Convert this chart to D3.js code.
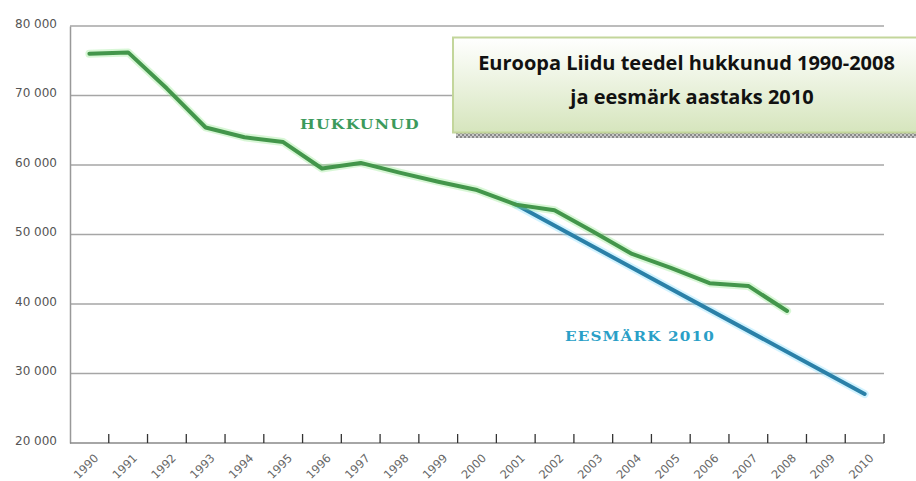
<!DOCTYPE html>
<html>
<head>
<meta charset="utf-8">
<script src="https://cdn.jsdelivr.net/npm/d3@7"></script>
<style>
  html, body { margin: 0; padding: 0; background: #fff; }
  svg { display: block; }
</style>
</head>
<body>
<svg id="chart" width="916" height="481"></svg>
<script>
// ---- data ----
const years = ["1990","1991","1992","1993","1994","1995","1996","1997","1998","1999","2000",
               "2001","2002","2003","2004","2005","2006","2007","2008","2009","2010"];
const killedYears = ["1990","1991","1992","1993","1994","1995","1996","1997","1998","1999","2000",
                     "2001","2002","2003","2004","2005","2006","2007","2008"];
const killed = [76000, 76200, 71000, 65400, 64000, 63300, 59500, 60300, 58900, 57600, 56400,
                54300, 53500, 50400, 47200, 45200, 43000, 42600, 39000];
const targetYears = ["2001", "2010"];
const target = [54300, 27050];
const yTicks = [20000, 30000, 40000, 50000, 60000, 70000, 80000];
const titleLines = ["Euroopa Liidu teedel hukkunud 1990-2008", "ja eesmärk aastaks 2010"];
const seriesLabels = ["HUKKUNUD", "EESMÄRK 2010"];

(function () {
// ---- layout ----
const svg = d3.select("#chart");
const pLeft = 70, pRight = 884, pTop = 26, pBottom = 443;

const x = d3.scaleBand().domain(years).range([pLeft, pRight]).padding(0);
const y = d3.scaleLinear().domain([20000, 80000]).range([pBottom, pTop]);
const cx = d => x(d) + x.bandwidth() / 2;

const fmt = v => d3.format(",")(v).replace(/,/g, " ");

// gridlines
svg.append("g").selectAll("line").data(yTicks.filter(t => t > 20000)).join("line")
  .attr("x1", pLeft).attr("x2", pRight)
  .attr("y1", d => y(d)).attr("y2", d => y(d))
  .attr("stroke", "#a6a6a6").attr("stroke-width", 1.5);

// y axis via d3.axisLeft
const yAxis = svg.append("g").attr("transform", `translate(${pLeft},0)`)
  .call(d3.axisLeft(y).tickValues(yTicks).tickFormat(fmt).tickSize(0).tickPadding(13));
yAxis.select(".domain").attr("stroke", "#999").attr("stroke-width", 1.5);
yAxis.selectAll("text").attr("font-family", "DejaVu Sans, sans-serif")
  .attr("font-size", 12).attr("fill", "#555").attr("dy", "0.1em");

// x axis baseline and ticks (ticks at band boundaries)
svg.append("line").attr("x1", pLeft).attr("x2", pRight).attr("y1", pBottom).attr("y2", pBottom)
  .attr("stroke", "#888").attr("stroke-width", 1.5);
svg.append("g").selectAll("line").data(years).join("line")
  .attr("x1", d => x(d) + x.bandwidth()).attr("x2", d => x(d) + x.bandwidth())
  .attr("y1", pBottom).attr("y2", pBottom - 9)
  .attr("stroke", "#333").attr("stroke-width", 1.3);

svg.append("g").selectAll("text").data(years).join("text")
  .attr("transform", d => `translate(${cx(d) + 7},${pBottom + 13}) rotate(-45)`)
  .attr("text-anchor", "end").attr("dy", "0.35em")
  .attr("font-family", "DejaVu Sans, sans-serif").attr("font-size", 11.5)
  .attr("fill", "#666").text(d => d);

// lines
const line = d3.line().x(d => cx(d[0])).y(d => y(d[1]));
const killedData = killedYears.map((k, i) => [k, killed[i]]);
const targetData = targetYears.map((k, i) => [k, target[i]]);

function drawLine(data, glow, color) {
  svg.append("path").datum(data).attr("d", line).attr("fill", "none")
    .attr("stroke", glow).attr("stroke-width", 8).attr("stroke-opacity", 0.35)
    .attr("stroke-linejoin", "round").attr("stroke-linecap", "round");
  svg.append("path").datum(data).attr("d", line).attr("fill", "none")
    .attr("stroke", color).attr("stroke-width", 4)
    .attr("stroke-linejoin", "round").attr("stroke-linecap", "round");
}
drawLine(targetData, "#7fdcff", "#2a80a8");
drawLine(killedData, "#8ee88a", "#43964b");

// series labels (wide slab-like lettering, stretched horizontally to fit)
function stretchLabel(text, x0, y0, width, color) {
  const t = svg.append("text").attr("x", 0).attr("y", 0)
    .attr("font-family", "DejaVu Serif, serif").attr("font-weight", "bold")
    .attr("font-size", 13.5).attr("letter-spacing", 1).attr("fill", color).text(text);
  const w = t.node().getComputedTextLength();
  t.attr("transform", `translate(${x0},${y0}) scale(${width / w},1)`);
}
stretchLabel(seriesLabels[0], 300, 128.5, 120, "#3c9a5c");
stretchLabel(seriesLabels[1], 565, 340.5, 150, "#2a9fc7");

// title box
const defs = svg.append("defs");
const grad = defs.append("linearGradient").attr("id", "boxg")
  .attr("x1", 0).attr("y1", 0).attr("x2", 0).attr("y2", 1);
grad.append("stop").attr("offset", "0%").attr("stop-color", "#ffffff");
grad.append("stop").attr("offset", "100%").attr("stop-color", "#d6e5bd");
const pat = defs.append("pattern").attr("id", "hatch").attr("patternUnits", "userSpaceOnUse")
  .attr("width", 4).attr("height", 4);
pat.append("rect").attr("width", 4).attr("height", 4).attr("fill", "#c8c8c8");
pat.append("rect").attr("width", 2).attr("height", 2).attr("fill", "#8a8a8a");
pat.append("rect").attr("x", 2).attr("y", 2).attr("width", 2).attr("height", 2).attr("fill", "#8a8a8a");

svg.append("rect").attr("x", 456).attr("y", 40).attr("width", 470).attr("height", 98)
  .attr("fill", "url(#hatch)");
svg.append("rect").attr("x", 453).attr("y", 37.5).attr("width", 470).attr("height", 95)
  .attr("fill", "url(#boxg)").attr("stroke", "#c3d69b").attr("stroke-width", 2);

const t1 = svg.append("text").attr("x", 686.5).attr("y", 70).attr("text-anchor", "middle")
  .attr("font-family", "Open Sans, sans-serif").attr("font-weight", "bold")
  .attr("font-size", 17).attr("fill", "#111").text(titleLines[0]);
const w1 = t1.node().getComputedTextLength();
const fs = 17 * 417 / w1;
t1.attr("font-size", fs);
svg.append("text").attr("x", 692).attr("y", 104).attr("text-anchor", "middle")
  .attr("font-family", "Open Sans, sans-serif").attr("font-weight", "bold")
  .attr("font-size", fs).attr("fill", "#111").text(titleLines[1]);
})();
</script>
</body>
</html>
